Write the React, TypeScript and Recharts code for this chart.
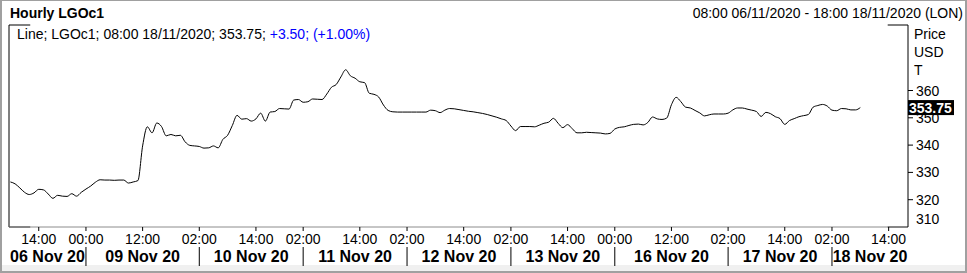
import { LineChart, Line, XAxis, YAxis, ReferenceLine } from 'recharts';

// hourly closes, 06 Nov 08:00 -> 18 Nov 08:00 (session hours only)
const prices = [
  326.5, 325.8, 324.3, 322.7, 321.9, 322.5, 323.8, 323.6, 322.1, 320.5,
  321.6, 321.3, 321.2, 322.2, 321.3, 322.7, 323.9, 325.0, 326.4, 327.3,
  327.2, 327.2, 327.1, 327.2, 327.2, 326.1, 326.5, 327.0, 339.7, 346.7,
  344.5, 348.1, 346.8, 343.4, 343.9, 343.4, 343.6, 341.2, 339.9, 339.7,
  339.5, 338.9, 339.0, 339.7, 339.0, 342.1, 343.6, 347.2, 350.9, 349.5,
  349.7, 348.8, 349.6, 351.7, 348.8, 352.1, 352.3, 353.4, 353.3, 353.2,
  356.5, 356.7, 355.7, 355.9, 356.9, 356.8, 356.7, 358.7, 361.2, 362.2,
  365.0, 367.6, 365.4, 364.5, 363.2, 362.9, 359.0, 358.6, 357.6, 354.7,
  352.7, 352.2, 352.1, 352.1, 352.1, 352.1, 352.1, 352.1, 352.1, 352.8,
  352.6, 351.9, 352.8, 353.4, 353.3, 353.0, 352.7, 352.4, 352.2, 351.9,
  351.6, 351.2, 350.7, 350.2, 349.6, 349.0, 347.0, 345.3, 346.8, 346.8,
  346.8, 346.7, 347.3, 348.0, 348.4, 349.8, 348.0, 346.4, 347.5, 346.0,
  344.5, 344.5, 344.7, 344.6, 344.5, 344.4, 344.1, 344.3, 345.9, 346.5,
  346.7, 347.2, 347.6, 347.7, 347.4, 348.3, 350.3, 349.6, 349.4, 349.9,
  354.8, 357.5, 355.9, 353.9, 353.6, 352.7, 351.8, 350.7, 351.1, 351.4,
  351.4, 351.4, 351.7, 352.9, 353.6, 353.6, 353.2, 352.8, 352.3, 350.5,
  352.0, 351.5, 350.4, 349.7, 347.6, 349.0, 349.7, 350.4, 350.8, 351.2,
  353.9, 354.5, 354.9, 354.3, 352.8, 352.6, 353.4, 353.3, 352.9, 352.9,
  353.75,
];

const timeTicks = [6, 16, 28, 40, 52, 62, 74, 84, 96, 106, 118, 128, 140, 152, 164, 174, 186];
const timeLabels = ['14:00', '00:00', '12:00', '02:00', '14:00', '02:00', '14:00', '02:00', '14:00',
  '02:00', '14:00', '00:00', '12:00', '02:00', '14:00', '02:00', '14:00'];
const dayBreaks = [16, 40, 62, 84, 106, 128, 152, 174];
const dayCentres = [7.85, 28, 51, 73, 95, 117, 140, 163, 182.05];
const dayLabels = ['06 Nov 20', '09 Nov 20', '10 Nov 20', '11 Nov 20', '12 Nov 20',
  '13 Nov 20', '16 Nov 20', '17 Nov 20', '18 Nov 20'];
const priceTicks = [310, 320, 330, 340, 350, 360];

const X_MIN = -0.3;
const X_MAX = 190.1;
const Y_MIN = 310;
const Y_MAX = 384;
const FONT = '"Liberation Sans", Arial, sans-serif';

const rows = prices.map((v, i) => ({ i, v }));
const last = prices[prices.length - 1];

function TimeTick({ x, y, payload }: any) {
  const k = timeTicks.indexOf(payload.value);
  const brk = dayBreaks.includes(payload.value);
  return (
    <g>
      <line x1={x} x2={x} y1={y} y2={y + 4} stroke="#000" />
      <text x={x} y={y + 17} textAnchor="middle" fontSize={14} fontFamily={FONT} fill="#000">{timeLabels[k]}</text>
      {brk && <line x1={x} x2={x} y1={y + 20} y2={y + 39} stroke="#000" />}
    </g>
  );
}

function DayTick({ x, y, payload }: any) {
  const k = dayCentres.indexOf(payload.value);
  return (
    <text x={x} y={y + 15} textAnchor="middle" fontSize={16} fontWeight="bold" fontFamily={FONT} fill="#000">
      {dayLabels[k]}
    </text>
  );
}

function PriceTick({ x, y, payload }: any) {
  const bottom = payload.value === Y_MIN;
  return (
    <g>
      {!bottom && <line x1={x} x2={x + 5} y1={y} y2={y} stroke="#000" />}
      <text x={x + 8} y={bottom ? y - 3 : y + 5} fontSize={14} fontFamily={FONT} fill="#000">{payload.value}</text>
    </g>
  );
}

function PriceBadge({ viewBox }: any) {
  const x = viewBox.x + viewBox.width;
  const y = viewBox.y;
  return (
    <g>
      <rect x={x} y={y - 7.5} width={46} height={15} fill="#000" />
      <text x={x + 1} y={y + 5} fontSize={14} fontWeight="bold" fontFamily={FONT} fill="#fff">{last.toFixed(2)}</text>
    </g>
  );
}

export default function App() {
  return (
    <div style={{ position: 'absolute', left: 0, top: 0, width: 967, height: 273, background: '#fff', fontFamily: FONT, overflow: 'hidden' }}>
      <div style={{ position: 'absolute', left: 0, right: 0, top: 265, height: 6, background: '#f0f0f0' }} />
      <LineChart width={967} height={273} data={rows} margin={{ top: 25, right: 0, left: 9, bottom: 0 }}>
        <XAxis dataKey="i" type="number" domain={[X_MIN, X_MAX]} ticks={timeTicks} interval={0} height={20}
          tickSize={0} tickMargin={0} tick={<TimeTick />} axisLine={{ stroke: '#8c8c8c' }} allowDataOverflow />
        <XAxis xAxisId="day" dataKey="i" type="number" domain={[X_MIN, X_MAX]} ticks={dayCentres} interval={0} height={26}
          tickSize={0} tickMargin={0} tick={<DayTick />} axisLine={false} tickLine={false} allowDataOverflow />
        <YAxis orientation="right" type="number" domain={[Y_MIN, Y_MAX]} ticks={priceTicks} interval={0} width={59}
          tickSize={0} tickMargin={0} tick={<PriceTick />} axisLine={{ stroke: '#000' }} allowDataOverflow />
        <ReferenceLine x={X_MIN} stroke="#000" />
        <ReferenceLine segment={[{ x: X_MIN, y: Y_MAX }, { x: 4.2, y: Y_MAX }]} stroke="#000" />
        <ReferenceLine segment={[{ x: 185.8, y: Y_MAX }, { x: X_MAX, y: Y_MAX }]} stroke="#000" />
        <ReferenceLine segment={[{ x: X_MIN, y: Y_MIN }, { x: 4.2, y: Y_MIN }]} stroke="#000" />
        <ReferenceLine segment={[{ x: 185.8, y: Y_MIN }, { x: X_MAX, y: Y_MIN }]} stroke="#000" />
        <Line dataKey="v" type="monotone" stroke="#000" strokeWidth={1} dot={false} isAnimationActive={false} />
        <ReferenceLine y={last} stroke="none" label={<PriceBadge />} />
      </LineChart>
      <div style={{ position: 'absolute', left: 10, top: 5, fontSize: 14, fontWeight: 'bold', lineHeight: '17px' }}>Hourly LGOc1</div>
      <div style={{ position: 'absolute', right: 4, top: 5, fontSize: 14, lineHeight: '17px' }}>08:00 06/11/2020 - 18:00 18/11/2020 (LON)</div>
      <div style={{ position: 'absolute', left: 17, top: 26, fontSize: 14, lineHeight: '17px', whiteSpace: 'nowrap' }}>
        Line; LGOc1; 08:00 18/11/2020; 353.75; <span style={{ color: '#0000ff' }}>+3.50; (+1.00%)</span>
      </div>
      <div style={{ position: 'absolute', left: 914, top: 25, fontSize: 14, lineHeight: '18px' }}>
        <div>Price</div>
        <div>USD</div>
        <div>T</div>
      </div>
      <div style={{ position: 'absolute', inset: 0, borderTop: '1px solid #a0a0a0', borderLeft: '2px solid #a0a0a0', borderRight: '2px solid #a0a0a0', borderBottom: '2px solid #a0a0a0', pointerEvents: 'none' }} />
    </div>
  );
}
